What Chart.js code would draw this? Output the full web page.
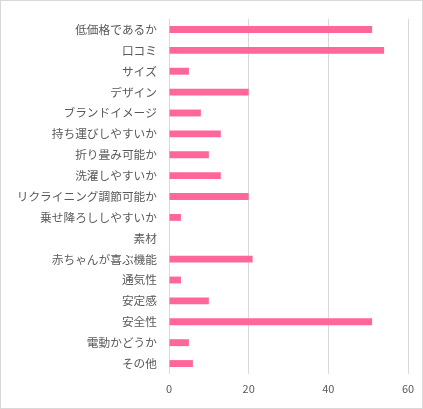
<!DOCTYPE html>
<html><head><meta charset="utf-8">
<script src="https://cdn.jsdelivr.net/npm/chart.js@4"></script>
<style>html,body{margin:0;padding:0;background:#fff;}#wrap{width:423px;height:409px;}</style>
</head><body><div id="wrap"><canvas id="c" width="423" height="409"></canvas></div>
<script>
const categories = ["低価格であるか","口コミ","サイズ","デザイン","ブランドイメージ","持ち運びしやすいか","折り畳み可能か","洗濯しやすいか","リクライニング調節可能か","乗せ降ろししやすいか","素材","赤ちゃんが喜ぶ機能","通気性","安定感","安全性","電動かどうか","その他"];
const values = [51,54,5,20,8,13,10,13,20,3,0,21,3,10,51,5,6];
const xTicks = [0,20,40,60];

const borderPlugin = {
  id:'border',
  beforeDraw(chart){
    const c = chart.ctx;
    c.save();
    c.fillStyle='#fff';
    c.fillRect(0,0,chart.width,chart.height);
    c.strokeStyle='#d9d9d9';
    c.lineWidth=1;
    c.strokeRect(0.5,0.5,chart.width-1,chart.height-1);
    c.restore();
  }
};

new Chart(document.getElementById('c'), {
  type:'bar',
  data:{labels:categories, datasets:[{data:values, backgroundColor:'#FF6699', barPercentage:0.33, categoryPercentage:1}]},
  options:{
    indexAxis:'y',
    responsive:false,
    animation:false,
    devicePixelRatio:1,
    layout:{padding:{top:16,right:15,left:0,bottom:0}},
    plugins:{legend:{display:false},tooltip:{enabled:false}},
    scales:{
      x:{
        min:xTicks[0], max:xTicks[xTicks.length-1],
        afterBuildTicks(s){ s.ticks = xTicks.map(v=>({value:v})); },
        afterFit(s){ s.height = 35; },
        grid:{color:'#d9d9d9', drawTicks:false},
        border:{display:false},
        ticks:{color:'#595959', padding:8, font:{family:'"Noto Sans CJK JP", "Noto Sans", sans-serif', size:11}}
      },
      y:{
        afterFit(s){ s.width = 169; },
        grid:{display:false, drawTicks:false},
        border:{display:false},
        ticks:{color:'#595959', padding:12, autoSkip:false, font:{family:'"Noto Sans CJK JP", sans-serif', size:11.7}}
      }
    }
  },
  plugins:[borderPlugin]
});
</script>
</body></html>
